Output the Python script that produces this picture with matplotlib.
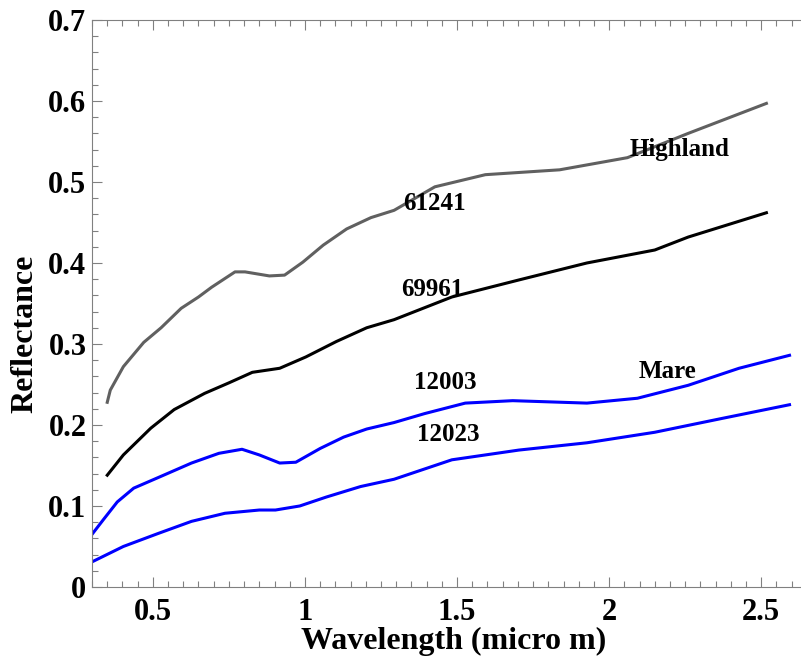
import matplotlib.pyplot as plt
from matplotlib.ticker import MultipleLocator

plt.rcParams['font.family'] = 'Liberation Serif'
plt.rcParams['font.weight'] = 'bold'

# 61241 (highland, gray)
x_61241 = [0.35, 0.36, 0.403, 0.47, 0.527, 0.593, 0.65, 0.693, 0.77, 0.803, 0.883,
           0.933, 0.993, 1.06, 1.137, 1.217, 1.293, 1.427, 1.593, 1.837, 2.06, 2.26, 2.517]
y_61241 = [0.228, 0.243, 0.272, 0.302, 0.320, 0.344, 0.358, 0.370, 0.389, 0.389, 0.384,
           0.385, 0.401, 0.422, 0.442, 0.456, 0.465, 0.494, 0.509, 0.515, 0.530, 0.560, 0.597]

# 69961 (highland, black)
x_69961 = [0.35, 0.403, 0.493, 0.57, 0.67, 0.75, 0.827, 0.917, 1.003, 1.103, 1.203,
           1.293, 1.483, 1.703, 1.927, 2.15, 2.26, 2.517]
y_69961 = [0.138, 0.163, 0.196, 0.219, 0.239, 0.252, 0.265, 0.270, 0.284, 0.303, 0.320,
           0.330, 0.358, 0.379, 0.400, 0.416, 0.432, 0.462]

# 12003 (mare, blue)
x_12003 = [0.3, 0.337, 0.383, 0.437, 0.517, 0.627, 0.717, 0.793, 0.85, 0.917, 0.97,
           1.05, 1.127, 1.203, 1.293, 1.393, 1.527, 1.683, 1.927, 2.093, 2.26, 2.427, 2.593]
y_12003 = [0.065, 0.083, 0.105, 0.122, 0.135, 0.153, 0.165, 0.170, 0.163, 0.153, 0.154,
           0.171, 0.185, 0.195, 0.203, 0.214, 0.227, 0.230, 0.227, 0.233, 0.249, 0.270, 0.286]

# 12023 (mare, blue)
x_12023 = [0.3, 0.403, 0.517, 0.627, 0.737, 0.85, 0.903, 0.983, 1.07, 1.183, 1.293,
           1.483, 1.703, 1.927, 2.15, 2.37, 2.593]
y_12023 = [0.031, 0.050, 0.066, 0.081, 0.091, 0.095, 0.095, 0.100, 0.111, 0.124, 0.133,
           0.157, 0.169, 0.178, 0.191, 0.208, 0.225]

fig = plt.figure(figsize=(8.01, 6.59), dpi=100)
ax = fig.add_axes([0.1149, 0.1093, 0.9114, 0.8604])

ax.plot(x_61241, y_61241, color='#606060', lw=2.2)
ax.plot(x_69961, y_69961, color='black', lw=2.2)
ax.plot(x_12003, y_12003, color='#0000ff', lw=2.2)
ax.plot(x_12023, y_12023, color='#0000ff', lw=2.2)

ax.text(2.23, 0.54, 'Highland', fontsize=18, ha='center', va='center')
ax.text(1.427, 0.474, '61241', fontsize=18, ha='center', va='center')
ax.text(1.42, 0.367, '69961', fontsize=18, ha='center', va='center')
ax.text(1.46, 0.252, '12003', fontsize=18, ha='center', va='center')
ax.text(1.47, 0.188, '12023', fontsize=18, ha='center', va='center')
ax.text(2.193, 0.266, 'Mare', fontsize=18, ha='center', va='center')

ax.set_xlim(0.3, 2.7)
ax.set_ylim(0, 0.7)
ax.xaxis.set_minor_locator(MultipleLocator(0.05))
ax.yaxis.set_minor_locator(MultipleLocator(0.02))
ax.set_xticks([0.5, 1, 1.5, 2, 2.5])
ax.set_xticklabels(['0.5', '1', '1.5', '2', '2.5'])
ax.set_yticks([0, 0.1, 0.2, 0.3, 0.4, 0.5, 0.6, 0.7])
ax.set_yticklabels(['0', '0.1', '0.2', '0.3', '0.4', '0.5', '0.6', '0.7'])

for s in ax.spines.values():
    s.set_color('#808080')
    s.set_linewidth(0.8)
ax.spines['right'].set_visible(False)

ax.tick_params(which='both', direction='in', top=True, right=False, colors='#808080',
               labelcolor='black', labelsize=22, width=0.8)
ax.tick_params(which='major', length=7)
ax.tick_params(which='minor', length=4)
ax.tick_params(axis='y', pad=4)
ax.tick_params(axis='x', pad=8)

ax.set_xlabel('Wavelength (micro m)', fontsize=23, fontweight='bold')
ax.set_ylabel('Reflectance', fontsize=23, fontweight='bold')
ax.xaxis.set_label_coords(0.495, -0.07)
ax.yaxis.set_label_coords(-0.072, 0.446)

fig.savefig('out.png', dpi=100)
